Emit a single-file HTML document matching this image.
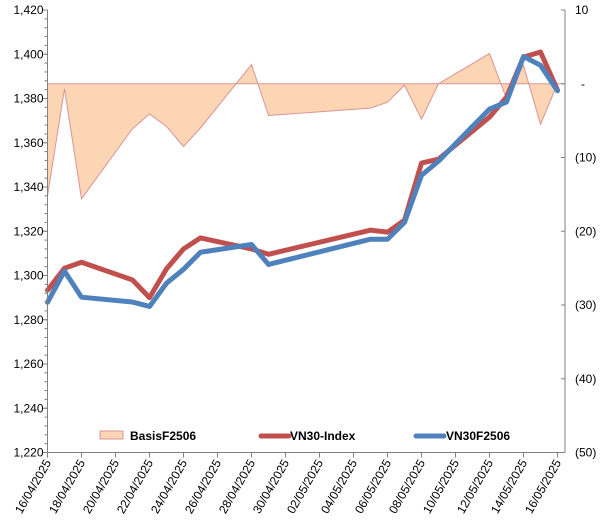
<!DOCTYPE html>
<html><head><meta charset="utf-8"><style>
body{margin:0;background:#fff;}
svg{font-family:"Liberation Sans",Arial,sans-serif;}
</style></head><body>
<svg id="chart" width="606" height="524" viewBox="0 0 606 524" xmlns="http://www.w3.org/2000/svg">
<g id="grid"></g>
<g id="area"></g>
<g id="lines"></g>
<g id="axes"></g>
<g id="legend">
  <rect x="100" y="431" width" width="23" height="8" fill="#FCD5B5" stroke="#D99594" stroke-width="1"/>
  <text x="130" y="440" font-size="12" font-weight="bold" fill="#000">BasisF2506</text>
  <line x1="261" y1="436" x2="289" y2="436" stroke="#C0504D" stroke-width="5" stroke-linecap="round"/>
  <text x="290" y="440" font-size="12" font-weight="bold" fill="#000">VN30-Index</text>
  <line x1="416" y1="436" x2="444" y2="436" stroke="#4F81BD" stroke-width="5" stroke-linecap="round"/>
  <text x="446" y="440" font-size="12" font-weight="bold" fill="#000">VN30F2506</text>
</g>
</svg>
<script>
const dates = ["16/04","17/04","18/04","21/04","22/04","23/04","24/04","25/04","28/04","29/04","05/05","06/05","07/05","08/05","09/05","12/05","13/05","14/05","15/05","16/05"];
const dayOffsets = [0,1,2,5,6,7,8,9,12,13,19,20,21,22,23,26,27,28,29,30];
const indexValues = [1293.3,1303.3,1306,1298,1290,1303,1312,1317,1312,1309.6,1320.5,1319.6,1325,1350.8,1352.6,1371.6,1380.6,1398.7,1401,1383.8];
const futuresValues = [1287.9,1302,1290.2,1288,1286,1296.5,1302.8,1310.5,1314,1305,1316.4,1316.4,1324,1345.3,1351.7,1375.2,1378.4,1399,1395,1383.5];
const basisValues = [-15.2,-0.7,-15.6,-6.1,-4.1,-5.8,-8.5,-6.0,2.6,-4.3,-3.3,-2.5,-0.2,-4.8,0.0,4.1,-2.0,2.5,-5.5,0.0];
const leftTicks = [1220,1240,1260,1280,1300,1320,1340,1360,1380,1400,1420];
const rightTicks = [10,0,-10,-20,-30,-40,-50];
const xTickLabels = ["16/04/2025","18/04/2025","20/04/2025","22/04/2025","24/04/2025","26/04/2025","28/04/2025","30/04/2025","02/05/2025","04/05/2025","06/05/2025","08/05/2025","10/05/2025","12/05/2025","14/05/2025","16/05/2025"];

const NS="http://www.w3.org/2000/svg";
const X0=47.5, DAY=17, XR=565;
const YT=10, YB=452.5;
const xs=d=>X0+d*DAY;
const yL=v=>YB-(v-1220)/(200)*(YB-YT);
const yR=v=>YB-(v+50)/60*(YB-YT);
function mk(tag,attrs,parent){const e=document.createElementNS(NS,tag);for(const k in attrs)e.setAttribute(k,attrs[k]);parent.appendChild(e);return e;}
const axes=document.getElementById('axes'), area=document.getElementById('area'), lines=document.getElementById('lines');

// basis area
let pts=dayOffsets.map((d,i)=>xs(d)+','+yR(basisValues[i]));
let poly=mk('polygon',{points:xs(dayOffsets[0])+','+yR(0)+' '+pts.join(' ')+' '+xs(dayOffsets[dayOffsets.length-1])+','+yR(0),fill:'#FCD5B5',stroke:'none'},area);


let bl=mk('polyline',{points:pts.join(' '),fill:'none',stroke:'#D99594','stroke-width':1},area);


let zl=mk('line',{x1:X0,x2:XR,y1:yR(0),y2:yR(0),stroke:'#D99594','stroke-width':1},area);



// lines
let rl=mk('polyline',{points:dayOffsets.map((d,i)=>xs(d)+','+yL(indexValues[i])).join(' '),fill:'none',stroke:'#C0504D','stroke-width':5,'stroke-linejoin':'round','stroke-linecap':'round'},lines);


let fl=mk('polyline',{points:dayOffsets.map((d,i)=>xs(d)+','+yL(futuresValues[i])).join(' '),fill:'none',stroke:'#4F81BD','stroke-width':5,'stroke-linejoin':'round','stroke-linecap':'round'},lines);



// axes lines
let la=mk('line',{x1:X0,x2:X0,y1:YT,y2:YB,stroke:'#808080'},axes);


let ra=mk('line',{x1:XR,x2:XR,y1:YT,y2:YB,stroke:'#808080'},axes);


let xa=mk('line',{x1:X0,x2:XR,y1:YB,y2:YB,stroke:'#808080'},axes);



for(let v=1220;v<=1420;v+=4){mk('line',{x1:X0-3,x2:X0,y1:yL(v),y2:yL(v),stroke:'#808080'},axes);}
leftTicks.forEach(v=>{
  mk('line',{x1:X0-5,x2:X0,y1:yL(v),y2:yL(v),stroke:'#808080'},axes);
  const t=mk('text',{x:X0-4,y:yL(v)+4,'text-anchor':'end','font-size':12,fill:'#000'},axes);
  
  
  t.textContent=v.toLocaleString('en-US');
});
rightTicks.forEach(v=>{
  mk('line',{x1:XR-4,x2:XR,y1:yR(v),y2:yR(v),stroke:'#808080'},axes);
  const t=mk('text',{x:XR+10,y:yR(v)+4,'font-size':12,fill:'#000'},axes);
  
  
  t.textContent=v===0?'-':(v<0?'('+(-v)+')':String(v));
  if(v===0)t.setAttribute('x',XR+16);
});
xTickLabels.forEach((lab,i)=>{
  const x=xs(i*2);
  mk('line',{x1:x,x2:x,y1:YB,y2:YB+5,stroke:'#808080'},axes);
  const t=mk('text',{x:x+4,y:YB+10,'text-anchor':'end','font-size':12,fill:'#000',transform:'rotate(-60 '+(x+4)+' '+(YB+10)+')'},axes);
  
  
  t.textContent=lab;
});
</script>
</body></html>
